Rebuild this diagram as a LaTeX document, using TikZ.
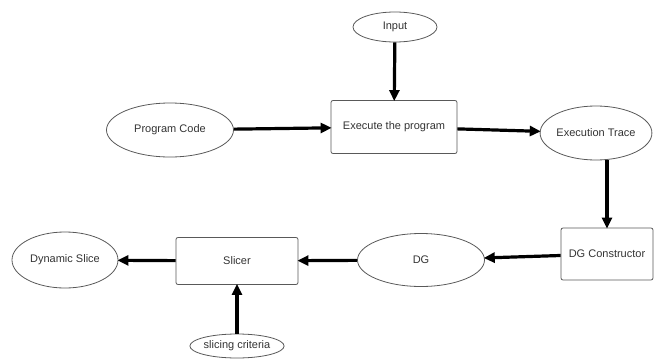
\documentclass[tikz,border=0pt]{standalone}
\usepackage{fontspec}
\setmainfont{Liberation Sans}
\usetikzlibrary{arrows.meta,shapes.geometric}
\begin{document}
\begin{tikzpicture}[x=1pt,y=-1pt,
  every node/.style={font=\fontsize{11}{12}\selectfont, text=black!80, inner sep=0pt},
  oval/.style={ellipse, draw=black!65, line width=0.8pt},
  boxnode/.style={rectangle, rounded corners=2pt, draw=black!65, line width=0.8pt},
  flow/.style={line width=3.2pt, -{Triangle[length=11pt,width=10pt]}, shorten >=-1pt}]
\useasboundingbox (0,0) rectangle (656,359);
\node[oval, minimum width=84, minimum height=30] (inp) at (395,27) {Input};
\node[boxnode, minimum width=126, minimum height=53] (exe) at (394,127) {Execute the program};
\node[oval, minimum width=127, minimum height=54] (pc) at (170,130) {Program Code};
\node[oval, minimum width=104, minimum height=54] (trace) at (596,133) {Execution Trace};
\node[boxnode, minimum width=92, minimum height=52] (dgc) at (607,254) {DG Constructor};
\node[oval, minimum width=127, minimum height=53] (dg) at (421,260) {DG};
\node[boxnode, minimum width=122, minimum height=47] (sl) at (237,261) {Slicer};
\node[oval, minimum width=106, minimum height=56] (ds) at (65,260) {Dynamic Slice};
\node[oval, minimum width=90, minimum height=24] (crit) at (237,346) {slicing criteria};
\draw[flow] (inp) -- (exe);
\draw[flow] (pc) -- (exe);
\draw[flow] (exe) -- (trace);
\draw[flow] (dgc.north |- trace.south) -- (dgc.north);
\draw[flow] (dgc) -- (dg);
\draw[flow] (dg) -- (sl);
\draw[flow] (sl) -- (ds);
\draw[flow] (crit) -- (sl);
\end{tikzpicture}
\end{document}
